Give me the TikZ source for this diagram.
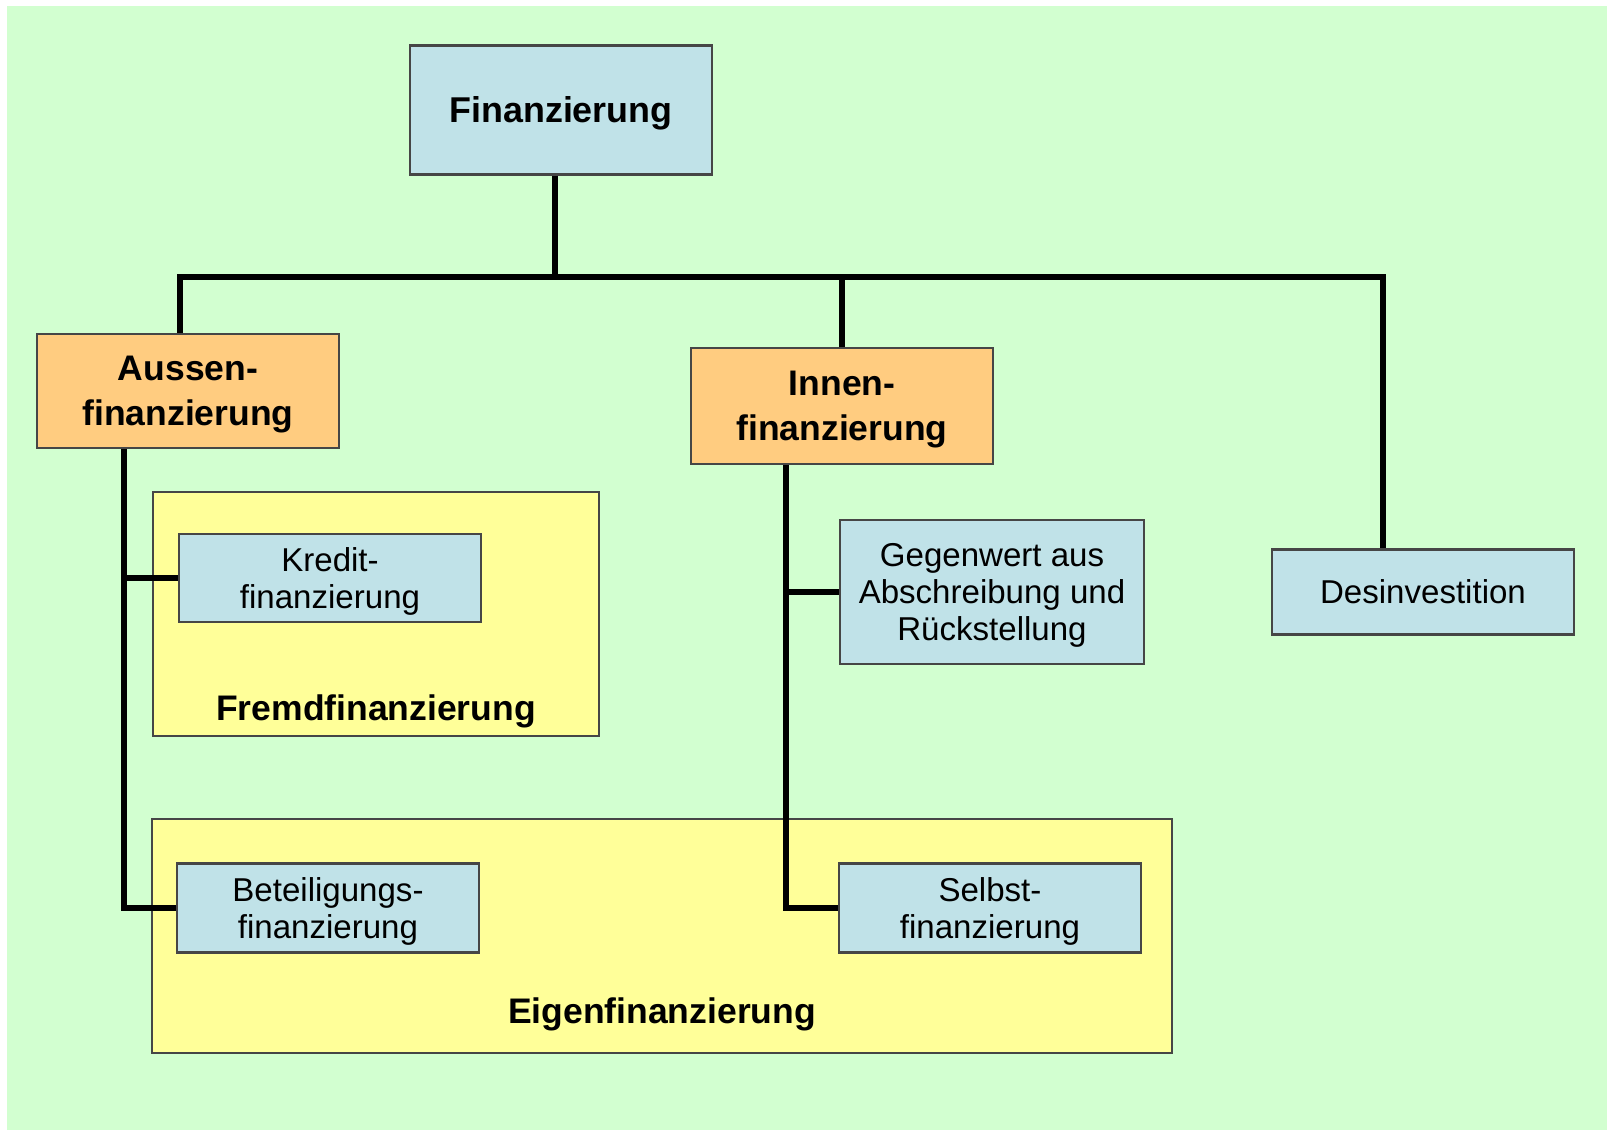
\documentclass[tikz,border=0pt]{standalone}
\usepackage{fontspec}
\setmainfont{Liberation Sans}
\usepackage{tikz}
\usetikzlibrary{positioning,calc}
\definecolor{bggreen}{RGB}{210,255,208}
\definecolor{boxblue}{RGB}{192,226,232}
\definecolor{boxorange}{RGB}{255,204,128}
\definecolor{boxyellow}{RGB}{255,255,153}
\definecolor{boxline}{RGB}{70,70,70}
\tikzset{
  bluebox/.style={rectangle,draw=boxline,fill=boxblue,line width=0.6pt,inner sep=0pt,
    align=center,minimum width=3.02cm,minimum height=0.88cm,text depth=0pt,
    font=\fontsize{9.4}{10.6}\selectfont},
  orangebox/.style={rectangle,draw=boxline,fill=boxorange,line width=0.6pt,inner sep=0pt,
    align=center,minimum width=3.02cm,minimum height=1.15cm,text depth=0pt,
    font=\bfseries\fontsize{10.1}{12.8}\selectfont},
  groupbox/.style={rectangle,draw=boxline,fill=boxyellow,line width=0.6pt,inner sep=0pt},
  grouplabel/.style={font=\bfseries\fontsize{10.1}{12}\selectfont,inner sep=0pt},
  conn/.style={draw=black,line width=0.065cm}
}

\begin{document}
\begin{tikzpicture}[x=0.01cm,y=-0.01cm]
  \useasboundingbox (0,0) rectangle (1608,1131);
  \fill[bggreen] (7,6) rectangle (1607,1130);
  % groups
  \node[groupbox,minimum width=4.46cm,minimum height=2.43cm] (fremd) at (376,614) {};
  \node[groupbox,minimum width=10.19cm,minimum height=2.33cm] (eigen) at (662,936) {};
  \node[grouplabel,above=0.08cm of fremd.south] (fremdlbl) {Fremdfinanzierung};
  \node[grouplabel,above=0.22cm of eigen.south] (eigenlbl) {Eigenfinanzierung};
  % boxes
  \node[bluebox,minimum width=3.01cm,minimum height=1.29cm,font=\bfseries\fontsize{10.2}{12}\selectfont] (fin) at (561,110) {Finanzierung};
  \node[orangebox,minimum height=1.14cm] (aus) at (188,391) {Aussen-\\finanzierung};
  \node[orangebox,minimum height=1.16cm] (inn) at (842,406) {Innen-\\finanzierung};
  \node[bluebox,minimum height=0.85cm] (des) at (1423,592) {Desinvestition};
  \node[bluebox] (kre) at (330,578) {Kredit-\\finanzierung};
  \node[bluebox,minimum width=3.04cm,minimum height=1.44cm] (geg) at (992,592) {Gegenwert aus\\Abschreibung und\\Rückstellung};
  \node[bluebox,minimum height=0.89cm] (bet) at (328,908) {Beteiligungs-\\finanzierung};
  \node[bluebox,minimum height=0.89cm] (sel) at (990,908) {Selbst-\\finanzierung};
  % connectors
  \coordinate (bus) at (555,277);
  \coordinate (aspine) at ([xshift=-0.64cm]aus.south);
  \coordinate (ispine) at ([xshift=-0.56cm]inn.south);
  \draw[conn] ([xshift=-0.06cm]fin.south) -- ([xshift=-0.06cm]fin.south |- bus);
  \draw[conn] ([xshift=-0.08cm]aus.north) |- (bus) -| ([xshift=-0.40cm]des.north);
  \draw[conn] (inn.north) -- (inn.north |- bus);
  \draw[conn] (aspine) |- (bet.west);
  \draw[conn] (kre.west) -- (kre.west -| aspine);
  \draw[conn] (ispine) |- (sel.west);
  \draw[conn] (geg.west) -- (geg.west -| ispine);
\end{tikzpicture}
\end{document}
